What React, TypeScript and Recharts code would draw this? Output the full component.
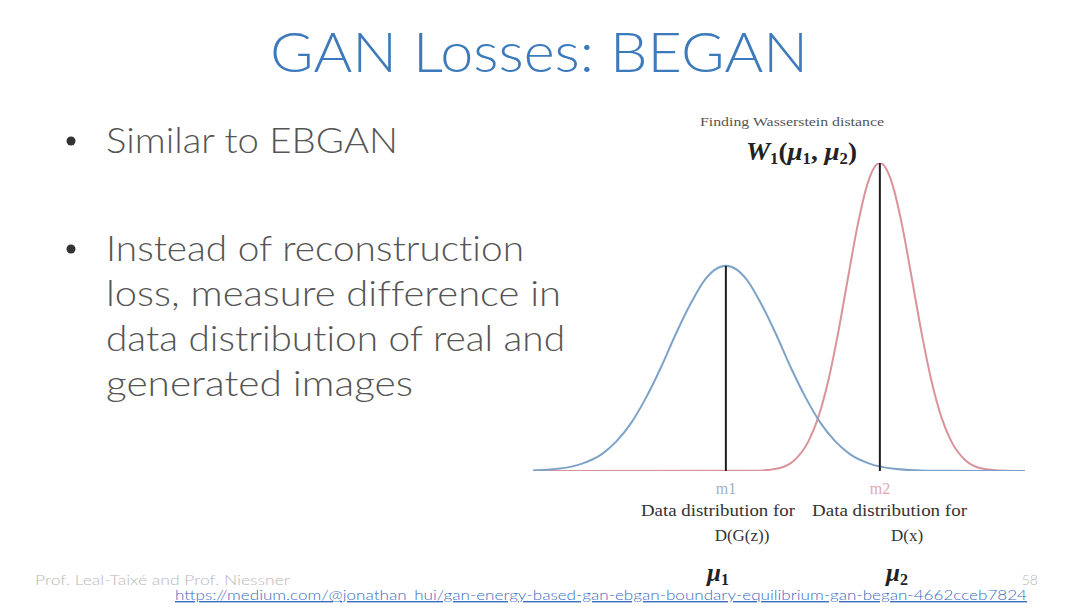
import React from "react";
import { LineChart, Line, XAxis, YAxis, ReferenceLine } from "recharts";

// Distribution of D(G(z)) (blue) — x position (0..100), density (relative)
const blueX = [0, 5, 10, 14, 17, 20, 23, 26, 29, 32, 35, 37, 39.2, 41.4, 43.4, 46.4, 49.4, 52.4, 55.4, 58.4, 61.4, 64.4, 68.4, 73.4, 80, 100];
const blueY = [0.002, 0.007, 0.024, 0.055, 0.097, 0.157, 0.239, 0.336, 0.444, 0.542, 0.622, 0.654, 0.666, 0.654, 0.622, 0.542, 0.444, 0.336, 0.239, 0.157, 0.097, 0.055, 0.024, 0.007, 0.001, 0];

// Distribution of D(x) (red)
const redX = [0, 45, 50, 53, 56, 58, 60, 62, 64, 66, 68, 69.3, 70.5, 71.7, 73, 75, 77, 79, 81, 83, 85, 88, 91, 96, 100];
const redY = [0, 0.0007, 0.009, 0.033, 0.097, 0.175, 0.292, 0.447, 0.625, 0.799, 0.933, 0.984, 1, 0.984, 0.933, 0.799, 0.625, 0.447, 0.292, 0.175, 0.097, 0.033, 0.009, 0.0007, 0];

// Means and their peak heights
const meanX = [39.2, 70.5];
const meanPeak = [0.666, 1];

const blueData = blueX.map((x, i) => ({ x, y: blueY[i] }));
const redData = redX.map((x, i) => ({ x, y: redY[i] }));

const bullets = [
  { lines: ["Similar to EBGAN"], widths: [292], y0: 153 },
  {
    lines: [
      "Instead of reconstruction",
      "loss, measure difference in",
      "data distribution of real and",
      "generated images",
    ],
    widths: [418, 455, 459, 307],
    y0: 261,
  },
];

const slideFont = "Lato, 'Open Sans', sans-serif";
const serif = "'Liberation Serif', 'DejaVu Serif', serif";
const noLig = { fontVariantLigatures: "none" as const };

export default function App() {
  return (
    <div style={{ position: "fixed", left: 0, top: 0, width: 1080, height: 608, background: "#fff", overflow: "hidden" }}>
      <div style={{ position: "absolute", left: 0, top: 0 }}>
        <LineChart width={1080} height={608} margin={{ top: 163, left: 533, right: 55, bottom: 137 }}>
          <XAxis type="number" dataKey="x" domain={[0, 100]} hide allowDataOverflow />
          <YAxis type="number" dataKey="y" domain={[0, 1]} hide allowDataOverflow />
          <Line data={redData} dataKey="y" type="monotone" stroke="#d9939b" strokeWidth={2} dot={false} isAnimationActive={false} />
          <Line data={blueData} dataKey="y" type="monotone" stroke="#7fa3c8" strokeWidth={2} dot={false} isAnimationActive={false} />
          {meanX.map((m, i) => (
            <ReferenceLine
              key={i}
              segment={[{ x: m, y: 0 }, { x: m, y: meanPeak[i] }]}
              stroke="#1e1e1e"
              strokeWidth={2}
              ifOverflow="visible"
            />
          ))}
        </LineChart>
      </div>
      <svg width={1080} height={608} style={{ position: "absolute", left: 0, top: 0, pointerEvents: "none" }}>
        <text x={270} y={72} style={noLig} fontFamily={slideFont} fontWeight={300} fontSize={56} fill="#3d7abb" textLength={538} lengthAdjust="spacingAndGlyphs">
          GAN Losses: BEGAN
        </text>
        {bullets.map((b, bi) => (
          <g key={bi}>
            <circle cx={71} cy={b.y0 - 12} r={4.5} fill="#333" />
            {b.lines.map((l, li) => (
              <text key={li} x={106} y={b.y0 + li * 45} style={noLig} fontFamily={slideFont} fontWeight={300} fontSize={35} fill="#555" textLength={b.widths[li]} lengthAdjust="spacingAndGlyphs">
                {l}
              </text>
            ))}
          </g>
        ))}
        <text x={700} y={126} fontFamily={serif} fontSize={13} fill="#555" textLength={184} lengthAdjust="spacingAndGlyphs">
          Finding Wasserstein distance
        </text>
        <text x={746} y={160} fontFamily={serif} fontSize={26} fontWeight="bold" fill="#222" textLength={111} lengthAdjust="spacingAndGlyphs">
          <tspan fontStyle="italic">W</tspan>
          <tspan fontSize={16} dy={4}>1</tspan>
          <tspan dy={-4}>(</tspan>
          <tspan fontStyle="italic">μ</tspan>
          <tspan fontSize={16} dy={4}>1</tspan>
          <tspan dy={-4}>, </tspan>
          <tspan fontStyle="italic">μ</tspan>
          <tspan fontSize={16} dy={4}>2</tspan>
          <tspan dy={-4}>)</tspan>
        </text>
        <text x={726} y={494} textAnchor="middle" fontFamily={serif} fontSize={16} fill="#9fb2c6">m1</text>
        <text x={880} y={494} textAnchor="middle" fontFamily={serif} fontSize={16} fill="#e0a9b0">m2</text>
        <text x={641} y={516} fontFamily={serif} fontSize={17} fill="#333" textLength={154} lengthAdjust="spacingAndGlyphs">Data distribution for</text>
        <text x={742} y={541} textAnchor="middle" fontFamily={serif} fontSize={17} fill="#333">D(G(z))</text>
        <text x={812} y={516} fontFamily={serif} fontSize={17} fill="#333" textLength={155} lengthAdjust="spacingAndGlyphs">Data distribution for</text>
        <text x={907} y={541} textAnchor="middle" fontFamily={serif} fontSize={17} fill="#333">D(x)</text>
        <text x={707} y={581} fontFamily={serif} fontSize={25} fontWeight="bold" fill="#222">
          <tspan fontStyle="italic">μ</tspan>
          <tspan fontSize={16} dy={4}>1</tspan>
        </text>
        <text x={886} y={581} fontFamily={serif} fontSize={25} fontWeight="bold" fill="#222">
          <tspan fontStyle="italic">μ</tspan>
          <tspan fontSize={16} dy={4}>2</tspan>
        </text>
        <text x={35} y={585} fontFamily={slideFont} fontWeight={300} fontSize={14} fill="#b8b8b8" textLength={255} lengthAdjust="spacingAndGlyphs">
          Prof. Leal-Taixé and Prof. Niessner
        </text>
        <text x={1038} y={585} textAnchor="end" fontFamily={slideFont} fontWeight={300} fontSize={14} fill="#b8b8b8">58</text>
        <text x={175} y={600} fontFamily={slideFont} fontWeight={300} fontSize={14} fill="#3a6cc0" textDecoration="underline" textLength={852} lengthAdjust="spacingAndGlyphs">
          https://medium.com/@jonathan_hui/gan-energy-based-gan-ebgan-boundary-equilibrium-gan-began-4662cceb7824
        </text>
      </svg>
    </div>
  );
}
